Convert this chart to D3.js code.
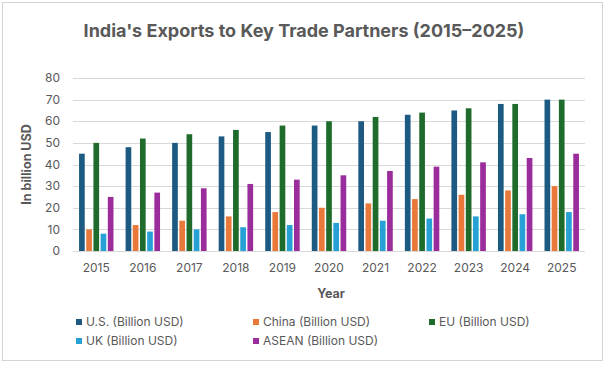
<!DOCTYPE html>
<html>
<head>
<meta charset="utf-8">
<script src="https://cdn.jsdelivr.net/npm/d3@7"></script>
<style>
  html, body { margin: 0; padding: 0; background: #fff; }
  text { font-family: Inter, "Noto Sans", sans-serif; }
</style>
</head>
<body>
<div id="chart"></div>
<script>
// India's exports to key trade partners, grouped bar chart
const years = ["2015", "2016", "2017", "2018", "2019", "2020", "2021", "2022", "2023", "2024", "2025"];
const seriesNames = ["U.S. (Billion USD)", "China (Billion USD)", "EU (Billion USD)", "UK (Billion USD)", "ASEAN (Billion USD)"];
const usValues = [45, 48, 50, 53, 55, 58, 60, 63, 65, 68, 70];
const chinaValues = [10, 12, 14, 16, 18, 20, 22, 24, 26, 28, 30];
const euValues = [50, 52, 54, 56, 58, 60, 62, 64, 66, 68, 70];
const ukValues = [8, 9, 10, 11, 12, 13, 14, 15, 16, 17, 18];
const aseanValues = [25, 27, 29, 31, 33, 35, 37, 39, 41, 43, 45];
const yTicks = [0, 10, 20, 30, 40, 50, 60, 70, 80];

const seriesValues = [usValues, chinaValues, euValues, ukValues, aseanValues];
const colors = ["#1d5a82", "#e8793a", "#1f6b2c", "#27a0d6", "#9a2c9c"];

const width = 609, height = 367;
const margin = { top: 78, right: 24, bottom: 116, left: 73 };

const svg = d3.select("#chart")
    .append("svg")
    .attr("width", width)
    .attr("height", height);

// outer frame
svg.append("rect")
    .attr("x", 2.5).attr("y", 2.5)
    .attr("width", 600).attr("height", 358)
    .attr("fill", "#fff")
    .attr("stroke", "#d4d4d4");

const x0 = d3.scaleBand()
    .domain(years)
    .range([margin.left, width - margin.right])
    .paddingInner(0.26)
    .paddingOuter(0.13);

const x1 = d3.scaleBand()
    .domain(d3.range(seriesNames.length))
    .range([0, x0.bandwidth()])
    .paddingInner(0.21);

const y = d3.scaleLinear()
    .domain([0, 80])
    .range([height - margin.bottom - 0.5 + 0.5 - 0, margin.top]);

// gridlines
svg.append("g")
    .selectAll("line")
    .data(yTicks)
    .join("line")
    .attr("x1", margin.left)
    .attr("x2", width - margin.right)
    .attr("y1", d => Math.round(y(d)) + 0.5)
    .attr("y2", d => Math.round(y(d)) + 0.5)
    .attr("stroke", "#d9d9d9");

// y labels
svg.append("g")
    .selectAll("text")
    .data(yTicks)
    .join("text")
    .attr("x", 60)
    .attr("y", d => y(d))
    .attr("dy", "0.35em")
    .attr("text-anchor", "end")
    .attr("font-size", "12px")
    .attr("fill", "#595959")
    .text(d => d);

// bars
const groups = svg.append("g")
    .selectAll("g")
    .data(years)
    .join("g")
    .attr("transform", d => `translate(${x0(d)},0)`);

groups.selectAll("rect")
    .data((d, i) => seriesValues.map((vals, s) => ({ s, v: vals[i] })))
    .join("rect")
    .attr("x", d => x1(d.s))
    .attr("width", x1.bandwidth())
    .attr("y", d => y(d.v))
    .attr("height", d => y(0) - y(d.v))
    .attr("fill", d => colors[d.s]);

// x labels
svg.append("g")
    .selectAll("text")
    .data(years)
    .join("text")
    .attr("x", d => x0(d) + x0.bandwidth() / 2)
    .attr("y", 268)
    .attr("dy", "0.35em")
    .attr("text-anchor", "middle")
    .attr("font-size", "12px")
    .attr("fill", "#595959")
    .text(d => d);

// titles
svg.append("text")
    .attr("x", 304)
    .attr("y", 31)
    .attr("dy", "0.35em")
    .attr("text-anchor", "middle")
    .attr("font-size", "18px")
    .attr("font-weight", "700")
    .attr("fill", "#595959")
    .text("India's Exports to Key Trade Partners (2015\u20132025)");

svg.append("text")
    .attr("transform", `translate(27,${(y(0) + y(80)) / 2}) rotate(-90)`)
    .attr("dy", "0.35em")
    .attr("text-anchor", "middle")
    .attr("font-size", "12.5px")
    .attr("font-weight", "700")
    .attr("fill", "#595959")
    .text("In billion USD");

svg.append("text")
    .attr("x", 331)
    .attr("y", 294)
    .attr("dy", "0.35em")
    .attr("text-anchor", "middle")
    .attr("font-size", "12.5px")
    .attr("font-weight", "700")
    .attr("fill", "#595959")
    .text("Year");

// legend
const legendX = [76, 253, 429];
const legendY = [322, 341];
const legend = svg.append("g")
    .selectAll("g")
    .data(seriesNames)
    .join("g")
    .attr("transform", (d, i) => `translate(${legendX[i % 3]},${legendY[Math.floor(i / 3)]})`);

legend.append("rect")
    .attr("x", 0).attr("y", -3)
    .attr("width", 6).attr("height", 6)
    .attr("fill", (d, i) => colors[i]);

legend.append("text")
    .attr("x", 10)
    .attr("dy", "0.35em")
    .attr("font-size", "12px")
    .attr("fill", "#595959")
    .text(d => d);
</script>
</body>
</html>
